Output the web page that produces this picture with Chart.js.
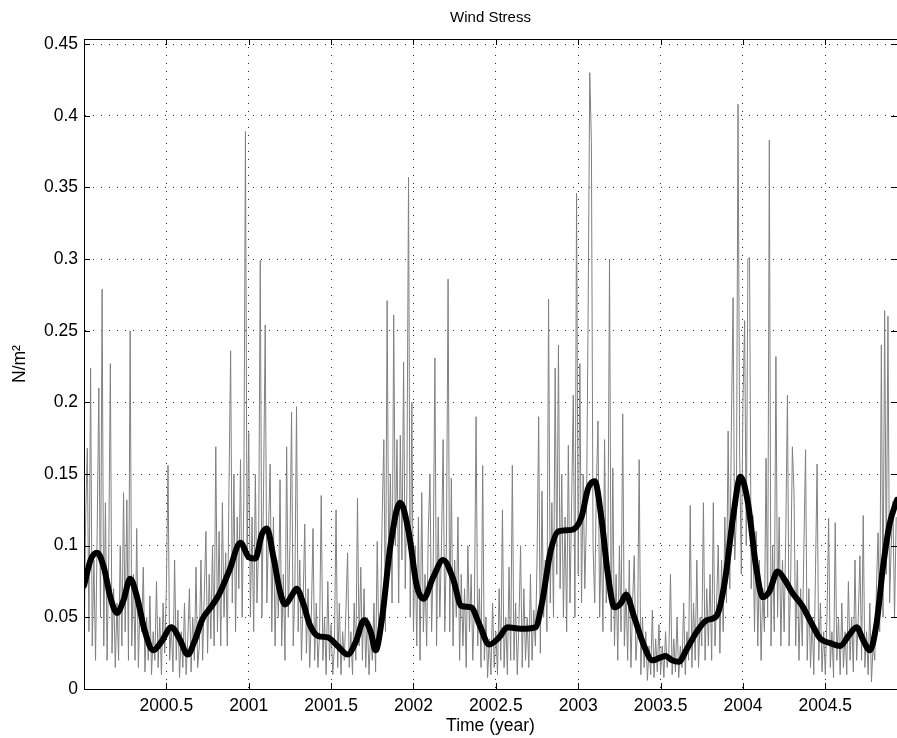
<!DOCTYPE html>
<html>
<head>
<meta charset="utf-8">
<title>Wind Stress</title>
<script src="https://cdn.jsdelivr.net/npm/chart.js@4"></script>
<style>
  html, body { margin: 0; padding: 0; background: #fff; }
  canvas { display: block; }
</style>
</head>
<body>
<canvas id="windChart" width="897" height="738"></canvas>
<script>
const rawStart = 2000.0;
const rawStep = 0.01;
const rawStress = [
  0.015, 0.12, 0.168, 0.04, 0.224, 0.03, 0.09, 0.02, 0.11, 0.21,      // 2000.0
  0.05, 0.279, 0.03, 0.13, 0.02, 0.09, 0.227, 0.025, 0.07, 0.015,     // 2000.1
  0.06, 0.02, 0.10, 0.03, 0.137, 0.04, 0.132, 0.02, 0.25, 0.03,       // 2000.2
  0.08, 0.02, 0.112, 0.015, 0.06, 0.04, 0.085, 0.012, 0.05, 0.02,     // 2000.3
  0.065, 0.01, 0.04, 0.02, 0.075, 0.015, 0.05, 0.01, 0.06, 0.025,     // 2000.4
  0.07, 0.156, 0.02, 0.045, 0.012, 0.09, 0.02, 0.055, 0.008, 0.04,    // 2000.5
  0.015, 0.06, 0.01, 0.035, 0.07, 0.012, 0.05, 0.02, 0.085, 0.015,    // 2000.6
  0.03, 0.09, 0.02, 0.065, 0.11, 0.025, 0.08, 0.035, 0.10, 0.03,      // 2000.7
  0.169, 0.04, 0.11, 0.03, 0.13, 0.05, 0.095, 0.03, 0.14, 0.236,      // 2000.8
  0.06, 0.15, 0.04, 0.12, 0.07, 0.16, 0.05, 0.13, 0.389, 0.09,        // 2000.9
  0.179, 0.05, 0.12, 0.04, 0.15, 0.06, 0.10, 0.299, 0.05, 0.14,       // 2001.0
  0.254, 0.06, 0.11, 0.157, 0.04, 0.12, 0.03, 0.09, 0.05, 0.146,      // 2001.1
  0.03, 0.08, 0.02, 0.169, 0.05, 0.10, 0.193, 0.03, 0.07, 0.197,      // 2001.2
  0.04, 0.09, 0.02, 0.06, 0.115, 0.025, 0.07, 0.015, 0.05, 0.112,     // 2001.3
  0.02, 0.06, 0.015, 0.04, 0.135, 0.02, 0.05, 0.01, 0.075, 0.02,      // 2001.4
  0.045, 0.01, 0.03, 0.125, 0.015, 0.06, 0.01, 0.04, 0.02, 0.055,     // 2001.5
  0.095, 0.015, 0.04, 0.01, 0.06, 0.02, 0.133, 0.03, 0.085, 0.02,     // 2001.6
  0.07, 0.015, 0.05, 0.01, 0.04, 0.02, 0.06, 0.012, 0.103, 0.03,      // 2001.7
  0.05, 0.12, 0.174, 0.04, 0.271, 0.08, 0.15, 0.06, 0.261, 0.10,      // 2001.8
  0.174, 0.06, 0.177, 0.09, 0.228, 0.07, 0.14, 0.357, 0.05, 0.20,     // 2001.9
  0.04, 0.10, 0.03, 0.12, 0.02, 0.137, 0.04, 0.08, 0.03, 0.11,        // 2002.0
  0.15, 0.04, 0.09, 0.231, 0.03, 0.12, 0.05, 0.10, 0.174, 0.04,       // 2002.1
  0.10, 0.286, 0.04, 0.147, 0.03, 0.09, 0.05, 0.12, 0.02, 0.08,       // 2002.2
  0.03, 0.07, 0.015, 0.10, 0.04, 0.08, 0.02, 0.06, 0.19, 0.03,        // 2002.3
  0.07, 0.015, 0.156, 0.02, 0.05, 0.008, 0.035, 0.01, 0.06, 0.015,    // 2002.4
  0.04, 0.01, 0.07, 0.02, 0.125, 0.015, 0.05, 0.01, 0.085, 0.02,      // 2002.5
  0.156, 0.02, 0.06, 0.01, 0.045, 0.10, 0.015, 0.07, 0.02, 0.05,      // 2002.6
  0.015, 0.08, 0.02, 0.055, 0.03, 0.09, 0.19, 0.025, 0.138, 0.05,     // 2002.7
  0.09, 0.04, 0.272, 0.06, 0.13, 0.05, 0.224, 0.08, 0.24, 0.07,       // 2002.8
  0.15, 0.05, 0.12, 0.04, 0.17, 0.06, 0.13, 0.205, 0.05, 0.346,       // 2002.9
  0.08, 0.227, 0.06, 0.15, 0.07, 0.12, 0.26, 0.43, 0.382, 0.10,       // 2003.0
  0.06, 0.14, 0.187, 0.05, 0.11, 0.04, 0.174, 0.06, 0.09, 0.30,       // 2003.1
  0.04, 0.154, 0.03, 0.08, 0.02, 0.10, 0.04, 0.192, 0.03, 0.07,       // 2003.2
  0.02, 0.09, 0.015, 0.06, 0.093, 0.02, 0.04, 0.16, 0.01, 0.05,       // 2003.3
  0.015, 0.04, 0.006, 0.03, 0.01, 0.055, 0.008, 0.035, 0.012, 0.045,  // 2003.4
  0.01, 0.03, 0.008, 0.04, 0.015, 0.025, 0.08, 0.01, 0.035, 0.012,    // 2003.5
  0.05, 0.008, 0.03, 0.015, 0.06, 0.01, 0.04, 0.02, 0.128, 0.015,     // 2003.6
  0.06, 0.02, 0.09, 0.015, 0.05, 0.03, 0.13, 0.02, 0.07, 0.03,        // 2003.7
  0.08, 0.02, 0.13, 0.03, 0.06, 0.10, 0.025, 0.09, 0.04, 0.12,        // 2003.8
  0.06, 0.18, 0.07, 0.187, 0.273, 0.09, 0.12, 0.408, 0.164, 0.08,     // 2003.9
  0.20, 0.257, 0.10, 0.30, 0.301, 0.07, 0.121, 0.04, 0.11, 0.03,      // 2004.0
  0.09, 0.02, 0.07, 0.04, 0.161, 0.05, 0.383, 0.03, 0.10, 0.04,       // 2004.1
  0.232, 0.05, 0.12, 0.03, 0.09, 0.04, 0.11, 0.205, 0.03, 0.08,       // 2004.2
  0.169, 0.137, 0.03, 0.09, 0.02, 0.07, 0.03, 0.10, 0.167, 0.02,      // 2004.3
  0.07, 0.015, 0.05, 0.01, 0.08, 0.157, 0.02, 0.06, 0.012, 0.04,      // 2004.4
  0.01, 0.05, 0.119, 0.015, 0.04, 0.008, 0.116, 0.02, 0.05, 0.01,     // 2004.5
  0.06, 0.015, 0.04, 0.01, 0.075, 0.02, 0.05, 0.012, 0.09, 0.02,      // 2004.6
  0.05, 0.093, 0.02, 0.121, 0.015, 0.04, 0.01, 0.06, 0.005, 0.03,     // 2004.7
  0.02, 0.07, 0.109, 0.04, 0.24, 0.05, 0.264, 0.08, 0.26, 0.06,       // 2004.8
  0.10, 0.131, 0.05, 0.12                                             // 2004.9
];

// low-passed curve (thick black)
const smoothYears = [
  2000.00, 2000.04, 2000.08, 2000.12, 2000.16, 2000.20, 2000.24, 2000.28, 2000.32, 2000.37,
  2000.42, 2000.47, 2000.53, 2000.58, 2000.63, 2000.67, 2000.72, 2000.77, 2000.82, 2000.88,
  2000.95, 2001.00, 2001.04, 2001.08, 2001.11, 2001.15, 2001.19, 2001.22, 2001.26, 2001.29,
  2001.33, 2001.37, 2001.42, 2001.48, 2001.54, 2001.60, 2001.65, 2001.70, 2001.74, 2001.77,
  2001.81, 2001.86, 2001.92, 2001.97, 2002.02, 2002.06, 2002.12, 2002.18, 2002.24, 2002.29,
  2002.35, 2002.40, 2002.46, 2002.52, 2002.57, 2002.65, 2002.74, 2002.78, 2002.83, 2002.88,
  2002.96, 2003.02, 2003.06, 2003.10, 2003.14, 2003.18, 2003.22, 2003.26, 2003.29, 2003.34,
  2003.40, 2003.45, 2003.50, 2003.53, 2003.57, 2003.61, 2003.66, 2003.72, 2003.78, 2003.84,
  2003.89, 2003.94, 2003.985, 2004.03, 2004.08, 2004.12, 2004.16, 2004.21, 2004.26, 2004.30,
  2004.36, 2004.42, 2004.47, 2004.53, 2004.59, 2004.64, 2004.69, 2004.73, 2004.77, 2004.81,
  2004.85, 2004.89, 2004.935
];
const smoothStress = [
  0.072, 0.090, 0.095, 0.085, 0.064, 0.053, 0.062, 0.077, 0.065, 0.040,
  0.027, 0.033, 0.043, 0.035, 0.024, 0.033, 0.049, 0.057, 0.066, 0.082,
  0.102, 0.092, 0.091, 0.108, 0.112, 0.092, 0.068, 0.059, 0.065, 0.070,
  0.060, 0.045, 0.037, 0.036, 0.030, 0.024, 0.033, 0.048, 0.040, 0.027,
  0.050, 0.100, 0.130, 0.110, 0.072, 0.063, 0.078, 0.090, 0.077, 0.058,
  0.057, 0.045, 0.031, 0.036, 0.043, 0.042, 0.043, 0.060, 0.095, 0.110,
  0.111, 0.120, 0.140, 0.145, 0.120, 0.080, 0.057, 0.060, 0.066, 0.050,
  0.030, 0.020, 0.022, 0.023, 0.020, 0.019, 0.028, 0.040, 0.048, 0.051,
  0.075, 0.120, 0.148, 0.130, 0.085, 0.064, 0.068, 0.082, 0.075, 0.067,
  0.058, 0.045, 0.035, 0.032, 0.030, 0.037, 0.043, 0.034, 0.027, 0.045,
  0.085, 0.115, 0.132
];

const xTicks = [2000.5, 2001, 2001.5, 2002, 2002.5, 2003, 2003.5, 2004, 2004.5];
const yTicks = [0, 0.05, 0.1, 0.15, 0.2, 0.25, 0.3, 0.35, 0.4, 0.45];
const xRange = [2000.0, 2004.935];
const yRange = [0, 0.4535];

const rawPoints = rawStress.map((v, i) => ({ x: rawStart + i * rawStep, y: v }));
const smoothPoints = smoothYears.map((t, i) => ({ x: t, y: smoothStress[i] }));

const FONT = "'Liberation Sans', Arial, Helvetica, sans-serif";

// MATLAB-ish box + inward tick marks
const boxPlugin = {
  id: 'box',
  afterDraw(chart) {
    const { ctx, chartArea: a, scales } = chart;
    ctx.save();
    ctx.strokeStyle = '#000';
    ctx.lineWidth = 1;
    ctx.beginPath();
    ctx.rect(Math.round(a.left) + 0.5, Math.round(a.top) + 0.5, Math.round(a.right - a.left), Math.round(a.bottom - a.top));
    ctx.stroke();
    ctx.beginPath();
    xTicks.forEach(t => {
      const px = Math.round(scales.x.getPixelForValue(t)) + 0.5;
      ctx.moveTo(px, a.bottom); ctx.lineTo(px, a.bottom - 6);
      ctx.moveTo(px, a.top); ctx.lineTo(px, a.top + 6);
    });
    yTicks.forEach(t => {
      const py = Math.round(scales.y.getPixelForValue(t)) + 0.5;
      ctx.moveTo(a.left, py); ctx.lineTo(a.left + 6, py);
      ctx.moveTo(a.right, py); ctx.lineTo(a.right - 6, py);
    });
    ctx.stroke();
    ctx.restore();
  }
};

new Chart(document.getElementById('windChart'), {
  type: 'line',
  data: {
    datasets: [
      {
        label: 'daily',
        data: rawPoints,
        borderColor: '#808080',
        borderWidth: 1,
        pointRadius: 0,
        tension: 0,
        order: 2
      },
      {
        label: 'smoothed',
        data: smoothPoints,
        borderColor: '#000',
        borderWidth: 6,
        pointRadius: 0,
        cubicInterpolationMode: 'monotone',
        borderCapStyle: 'round',
        borderJoinStyle: 'round',
        order: 1
      }
    ]
  },
  options: {
    responsive: false,
    devicePixelRatio: 1,
    animation: false,
    layout: { padding: { left: 0, right: 0, top: 0, bottom: 0 } },
    plugins: {
      legend: { display: false },
      tooltip: { enabled: false },
      title: {
        display: true,
        fullSize: false,
        text: 'Wind Stress',
        color: '#000',
        font: { family: FONT, size: 15, weight: 'normal' },
        padding: { top: 9, bottom: 12 }
      }
    },
    scales: {
      x: {
        type: 'linear',
        min: xRange[0],
        max: xRange[1],
        afterBuildTicks: s => { s.ticks = xTicks.map(v => ({ value: v })); },
        afterFit: s => { s.height = 49; },
        ticks: {
          color: '#000',
          font: { family: FONT, size: 17.5 },
          padding: 7,
          maxRotation: 0,
          autoSkip: false,
          callback: v => String(v)
        },
        grid: { color: 'rgba(0,0,0,0.85)', lineWidth: 1, drawTicks: false },
        border: { display: true, color: '#000', width: 1, dash: [1, 7] },
        title: {
          display: true,
          text: 'Time (year)',
          color: '#000',
          font: { family: FONT, size: 17.5 },
          padding: { top: 0, bottom: 1 }
        }
      },
      y: {
        type: 'linear',
        min: yRange[0],
        max: yRange[1],
        afterBuildTicks: s => { s.ticks = yTicks.map(v => ({ value: v })); },
        afterFit: s => { s.width = 84; },
        ticks: {
          color: '#000',
          font: { family: FONT, size: 17.5 },
          padding: 6,
          autoSkip: false,
          callback: v => String(+v.toFixed(2))
        },
        grid: { color: 'rgba(0,0,0,0.85)', lineWidth: 1, drawTicks: false },
        border: { display: true, color: '#000', width: 1, dash: [1, 7] },
        title: {
          display: true,
          text: 'N/m²',
          color: '#000',
          font: { family: FONT, size: 17.5 },
          padding: { top: 10, bottom: 0 }
        }
      }
    }
  },
  plugins: [boxPlugin]
});
</script>
</body>
</html>
